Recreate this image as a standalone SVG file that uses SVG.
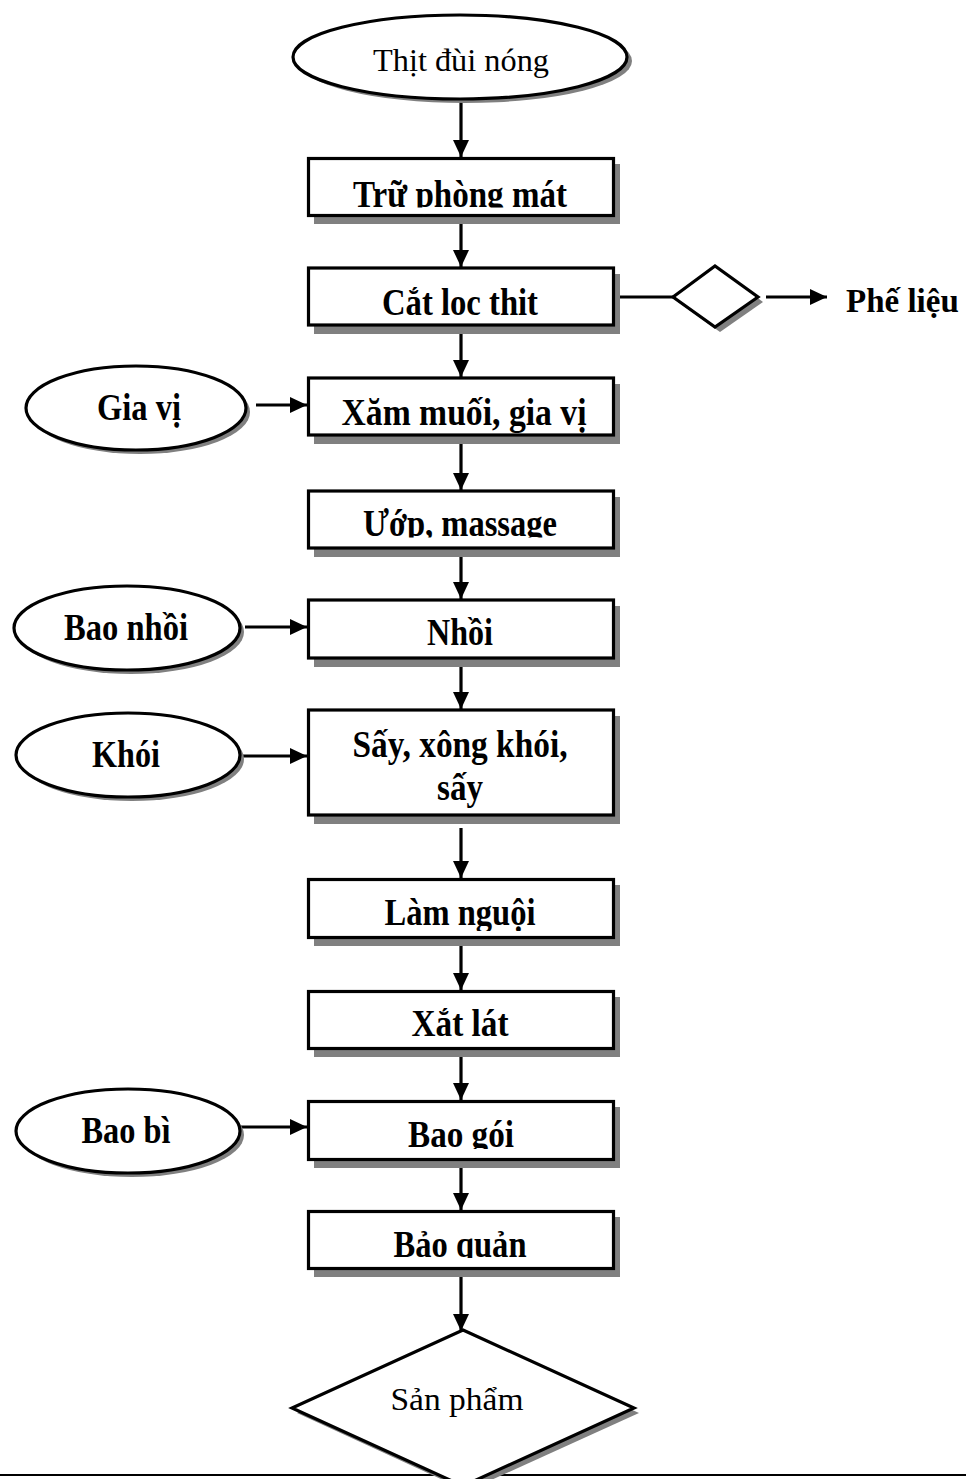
<svg xmlns="http://www.w3.org/2000/svg" width="966" height="1479" viewBox="0 0 966 1479">
  <style>
    .shadow { fill: #808080; stroke: none; }
    .shape { fill: #ffffff; stroke: #000000; stroke-width: 3.2; }
    .conn { stroke: #000000; stroke-width: 3.2; fill: none; }
    .b { font-family: "Liberation Serif", "Times New Roman", serif; font-weight: bold; font-size: 37px; fill: #000000; }
    .r { font-family: "Liberation Serif", "Times New Roman", serif; font-size: 31px; fill: #000000; }
  </style>
  <defs>
    <marker id="arrow" markerUnits="userSpaceOnUse" markerWidth="18" markerHeight="18" refX="17" refY="8" orient="auto">
      <path d="M0,0 L17,8 L0,16 Z" fill="#000000"/>
    </marker>
    <!-- text clip areas inside the process boxes -->
    <clipPath id="c1"><rect x="310" y="160" width="302" height="47.5"/></clipPath>
    <clipPath id="c2"><rect x="310" y="269" width="302" height="47"/></clipPath>
    <clipPath id="c3"><rect x="310" y="379" width="302" height="54"/></clipPath>
    <clipPath id="c4"><rect x="310" y="492" width="302" height="45.5"/></clipPath>
    <clipPath id="c7"><rect x="310" y="880" width="302" height="51"/></clipPath>
    <clipPath id="c9"><rect x="310" y="1102" width="302" height="47"/></clipPath>
    <clipPath id="c10"><rect x="310" y="1212" width="302" height="46"/></clipPath>
  </defs>

  <!-- page rule at the bottom -->
  <line x1="0" y1="1475" x2="966" y2="1475" stroke="#000000" stroke-width="2"/>

  <g id="connectors">
    <line class="conn" x1="461" y1="100" x2="461" y2="157" marker-end="url(#arrow)"/>
    <line class="conn" x1="461" y1="217" x2="461" y2="267" marker-end="url(#arrow)"/>
    <line class="conn" x1="461" y1="327" x2="461" y2="377" marker-end="url(#arrow)"/>
    <line class="conn" x1="461" y1="437" x2="461" y2="490" marker-end="url(#arrow)"/>
    <line class="conn" x1="461" y1="550" x2="461" y2="599" marker-end="url(#arrow)"/>
    <line class="conn" x1="461" y1="660" x2="461" y2="709" marker-end="url(#arrow)"/>
    <line class="conn" x1="461" y1="828" x2="461" y2="878" marker-end="url(#arrow)"/>
    <line class="conn" x1="461" y1="940" x2="461" y2="990" marker-end="url(#arrow)"/>
    <line class="conn" x1="461" y1="1050" x2="461" y2="1100" marker-end="url(#arrow)"/>
    <line class="conn" x1="461" y1="1162" x2="461" y2="1210" marker-end="url(#arrow)"/>
    <line class="conn" x1="461" y1="1270" x2="461" y2="1331" marker-end="url(#arrow)"/>
    <!-- waste branch -->
    <line class="conn" x1="615" y1="297" x2="673" y2="297" stroke-width="2.5"/>
    <line class="conn" x1="766" y1="297" x2="827" y2="297" marker-end="url(#arrow)"/>
    <!-- side inputs -->
    <line class="conn" x1="256" y1="405" x2="307" y2="405" marker-end="url(#arrow)"/>
    <line class="conn" x1="245" y1="627" x2="307" y2="627" marker-end="url(#arrow)"/>
    <line class="conn" x1="241" y1="756" x2="307" y2="756" marker-end="url(#arrow)"/>
    <line class="conn" x1="241" y1="1127" x2="307" y2="1127" marker-end="url(#arrow)"/>
  </g>

  <g id="n-thit-dui-nong">
    <ellipse class="shadow" cx="465" cy="61" rx="167" ry="42"/>
    <ellipse class="shape" cx="460" cy="57" rx="167" ry="42"/>
    <text class="r" x="461" y="71" text-anchor="middle" textLength="176" lengthAdjust="spacingAndGlyphs">Thịt đùi nóng</text>
  </g>

  <g id="n-tru-phong-mat">
    <rect class="shadow" x="314" y="164" width="306" height="60"/>
    <rect class="shape" x="308.5" y="158.5" width="305" height="57"/>
    <text class="b" x="460" y="206.5" text-anchor="middle" clip-path="url(#c1)" textLength="214" lengthAdjust="spacingAndGlyphs">Trữ phòng mát</text>
  </g>

  <g id="n-cat-loc-thit">
    <rect class="shadow" x="314" y="274" width="306" height="60"/>
    <rect class="shape" x="308.5" y="268" width="305" height="57"/>
    <text class="b" x="460" y="315" text-anchor="middle" clip-path="url(#c2)" textLength="156" lengthAdjust="spacingAndGlyphs">Cắt lọc thịt</text>
  </g>

  <g id="n-phe-lieu-check">
    <polygon class="shadow" points="678,302 720,270 763,302 720,332"/>
    <polygon class="shape" points="673,297 715,266 758,297 715,327"/>
  </g>

  <g id="n-phe-lieu">
    <text class="b" x="846" y="311.5" style="font-size:33px">Phế liệu</text>
  </g>

  <g id="n-gia-vi">
    <ellipse class="shadow" cx="140" cy="412" rx="110" ry="42"/>
    <ellipse class="shape" cx="136" cy="408" rx="110" ry="42"/>
    <text class="b" x="139" y="420" text-anchor="middle" textLength="84" lengthAdjust="spacingAndGlyphs">Gia vị</text>
  </g>

  <g id="n-xam-muoi">
    <rect class="shadow" x="314" y="384" width="306" height="60"/>
    <rect class="shape" x="308.5" y="378" width="305" height="57"/>
    <text class="b" x="464" y="425" text-anchor="middle" clip-path="url(#c3)" textLength="245" lengthAdjust="spacingAndGlyphs">Xăm muối, gia vị</text>
  </g>

  <g id="n-uop-massage">
    <rect class="shadow" x="314" y="497" width="306" height="60"/>
    <rect class="shape" x="308.5" y="491" width="305" height="57"/>
    <text class="b" x="460" y="536" text-anchor="middle" clip-path="url(#c4)" textLength="194" lengthAdjust="spacingAndGlyphs">Ướp, massage</text>
  </g>

  <g id="n-bao-nhoi">
    <ellipse class="shadow" cx="131" cy="632" rx="113" ry="42"/>
    <ellipse class="shape" cx="127" cy="628" rx="113" ry="42"/>
    <text class="b" x="126" y="640" text-anchor="middle" textLength="124" lengthAdjust="spacingAndGlyphs">Bao nhồi</text>
  </g>

  <g id="n-nhoi">
    <rect class="shadow" x="314" y="606" width="306" height="61"/>
    <rect class="shape" x="308.5" y="600" width="305" height="58"/>
    <text class="b" x="460" y="645" text-anchor="middle" textLength="66" lengthAdjust="spacingAndGlyphs">Nhồi</text>
  </g>

  <g id="n-khoi">
    <ellipse class="shadow" cx="132" cy="759" rx="112" ry="42"/>
    <ellipse class="shape" cx="128" cy="755" rx="112" ry="42"/>
    <text class="b" x="126" y="767" text-anchor="middle" textLength="68" lengthAdjust="spacingAndGlyphs">Khói</text>
  </g>

  <g id="n-say-xong-khoi">
    <rect class="shadow" x="314" y="716" width="306" height="108"/>
    <rect class="shape" x="308.5" y="710" width="305" height="105"/>
    <text class="b" x="460" y="757" text-anchor="middle" textLength="215" lengthAdjust="spacingAndGlyphs">Sấy, xông khói,</text>
    <text class="b" x="460" y="800" text-anchor="middle" textLength="46" lengthAdjust="spacingAndGlyphs">sấy</text>
  </g>

  <g id="n-lam-nguoi">
    <rect class="shadow" x="314" y="885" width="306" height="61"/>
    <rect class="shape" x="308.5" y="879.5" width="305" height="58"/>
    <text class="b" x="460" y="925" text-anchor="middle" clip-path="url(#c7)" textLength="151" lengthAdjust="spacingAndGlyphs">Làm nguội</text>
  </g>

  <g id="n-xat-lat">
    <rect class="shadow" x="314" y="997" width="306" height="60"/>
    <rect class="shape" x="308.5" y="991.5" width="305" height="57"/>
    <text class="b" x="460" y="1036" text-anchor="middle" textLength="97" lengthAdjust="spacingAndGlyphs">Xắt lát</text>
  </g>

  <g id="n-bao-bi">
    <ellipse class="shadow" cx="132" cy="1135" rx="112" ry="42"/>
    <ellipse class="shape" cx="128" cy="1131" rx="112" ry="42"/>
    <text class="b" x="126" y="1143" text-anchor="middle" textLength="89" lengthAdjust="spacingAndGlyphs">Bao bì</text>
  </g>

  <g id="n-bao-goi">
    <rect class="shadow" x="314" y="1107" width="306" height="61"/>
    <rect class="shape" x="308.5" y="1101.5" width="305" height="58"/>
    <text class="b" x="461" y="1147" text-anchor="middle" clip-path="url(#c9)" textLength="106" lengthAdjust="spacingAndGlyphs">Bao gói</text>
  </g>

  <g id="n-bao-quan">
    <rect class="shadow" x="314" y="1217" width="306" height="60"/>
    <rect class="shape" x="308.5" y="1211.5" width="305" height="57"/>
    <text class="b" x="460" y="1257" text-anchor="middle" clip-path="url(#c10)" textLength="133" lengthAdjust="spacingAndGlyphs">Bảo quản</text>
  </g>

  <g id="n-san-pham">
    <polygon class="shadow" points="467,1335 639,1413 467,1491 297,1413"/>
    <polygon class="shape" points="463,1330 634,1408 463,1486 292,1408"/>
    <text class="r" x="457" y="1410" text-anchor="middle" textLength="133" lengthAdjust="spacingAndGlyphs">Sản phẩm</text>
  </g>
</svg>
